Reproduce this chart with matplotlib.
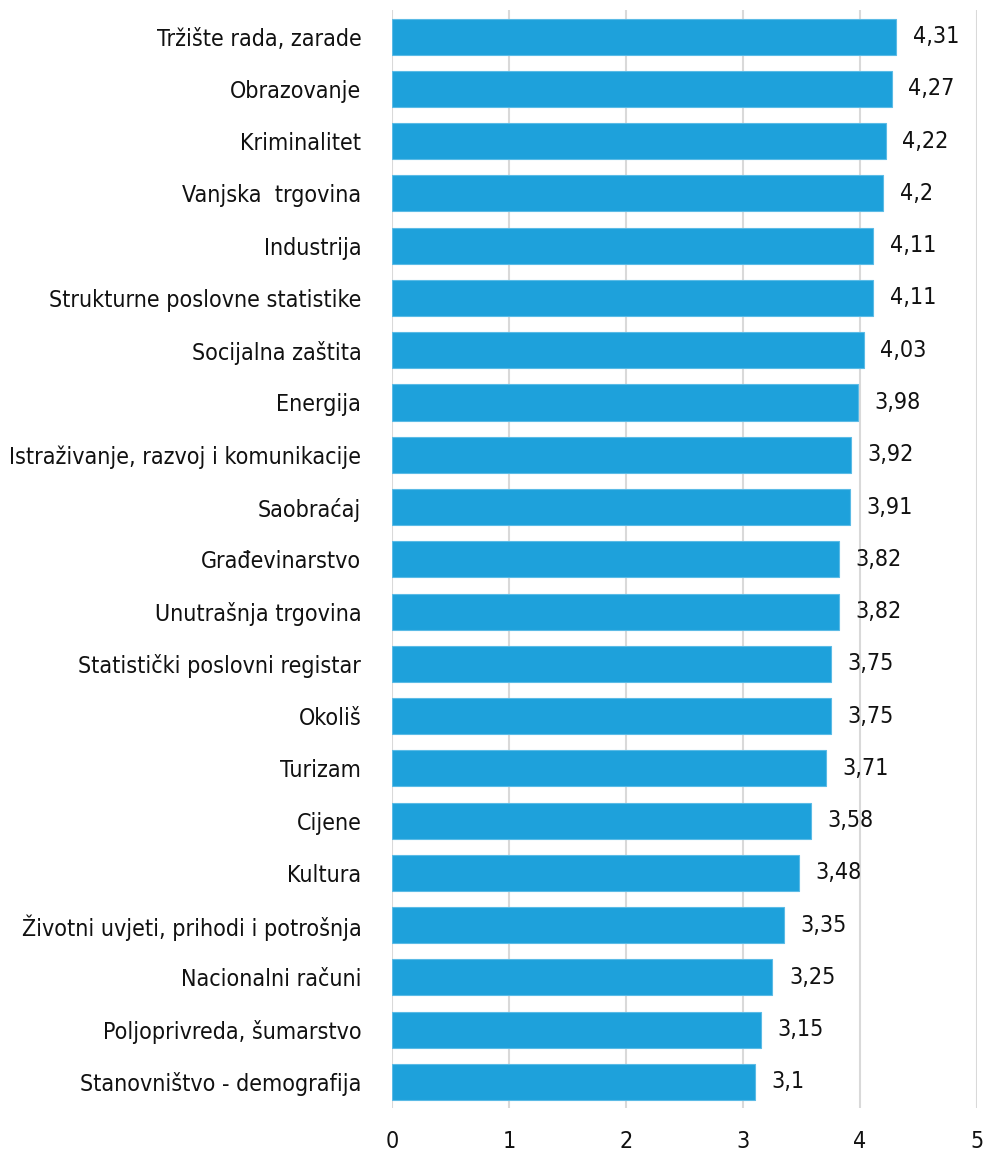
import matplotlib.pyplot as plt
from matplotlib import font_manager

# DATA
categories = ["Tržište rada, zarade", "Obrazovanje", "Kriminalitet", "Vanjska  trgovina",
              "Industrija", "Strukturne poslovne statistike", "Socijalna zaštita", "Energija",
              "Istraživanje, razvoj i komunikacije", "Saobraćaj", "Građevinarstvo",
              "Unutrašnja trgovina", "Statistički poslovni registar", "Okoliš", "Turizam",
              "Cijene", "Kultura", "Životni uvjeti, prihodi i potrošnja", "Nacionalni računi",
              "Poljoprivreda, šumarstvo", "Stanovništvo - demografija"]
values = [4.31, 4.27, 4.22, 4.2, 4.11, 4.11, 4.03, 3.98, 3.92, 3.91, 3.82,
          3.82, 3.75, 3.75, 3.71, 3.58, 3.48, 3.35, 3.25, 3.15, 3.1]
xticks = [0, 1, 2, 3, 4, 5]

# look for a narrow / condensed face, the original uses one
cond = []
for f in font_manager.fontManager.ttflist:
    if f.style != 'normal' or f.weight not in (400, 'normal', 'regular'):
        continue
    if 'Narrow' in f.name or 'Condensed' in f.name or str(f.stretch) in ('condensed', 'semi-condensed'):
        cond.append(f)
if cond:
    fp = font_manager.FontProperties(fname=cond[0].fname)
else:
    fp = font_manager.FontProperties(family='DejaVu Sans')

fig = plt.figure(figsize=(9.87, 11.64), dpi=100)
ax = fig.add_axes([0.397, 0.048, 0.593, 0.943])

# scale the font so the first label is about as wide as in the original (~202 px)
r = fig.canvas.get_renderer()
fp.set_size(20)
t = fig.text(0, 0, categories[0], fontproperties=fp)
w = t.get_window_extent(r).width
t.remove()
fs = min(24, 20 * 204 / w)
fp.set_size(fs)

ypos = list(range(len(categories)))
bars = ax.barh(ypos, values, height=0.69, color='#1ea1db', edgecolor='#5bbbe6', linewidth=0.8, zorder=3)
ax.bar_label(bars, labels=[str(v).replace('.', ',') for v in values], padding=12,
             fontproperties=fp, color='#111111')

ax.set_ylim(len(categories) - 0.5, -0.5)
ax.set_xlim(0, 5)
ax.set_yticks(ypos)
ax.set_yticklabels(categories, fontproperties=fp, color='#111111')
ax.set_xticks(xticks)
ax.set_xticklabels([str(t) for t in xticks], fontproperties=fp, color='#111111')
ax.tick_params(axis='y', length=0, pad=22)
ax.tick_params(axis='x', length=0, pad=16)
ax.grid(axis='x', color='#d9d9d9', linewidth=1.5, zorder=0)
for s in ax.spines.values():
    s.set_visible(False)

fig.savefig('out.png', dpi=100)
